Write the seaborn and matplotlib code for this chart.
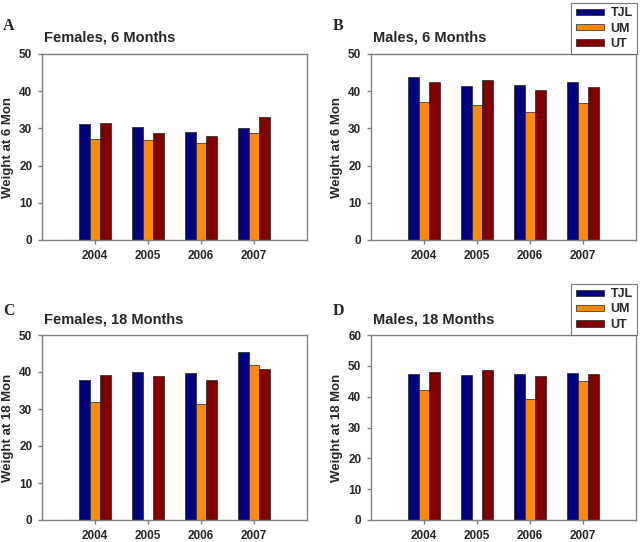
import matplotlib
matplotlib.use("Agg")
import matplotlib.pyplot as plt
import seaborn as sns
import pandas as pd
import numpy as np

years = ["2004", "2005", "2006", "2007"]
sites = ["TJL", "UM", "UT"]
colors = ["#000080", "#FF8C00", "#800000"]

# Panel A: Females, 6 months
fem6_tjl = [31.2, 30.3, 29.0, 30.2]
fem6_um = [27.2, 26.9, 26.1, 28.8]
fem6_ut = [31.5, 28.7, 28.0, 33.0]
# Panel B: Males, 6 months
mal6_tjl = [43.8, 41.3, 41.7, 42.6]
mal6_um = [37.1, 36.3, 34.4, 36.7]
mal6_ut = [42.4, 42.9, 40.4, 41.2]
# Panel C: Females, 18 months
fem18_tjl = [37.9, 40.0, 39.7, 45.4]
fem18_um = [32.0, np.nan, 31.3, 41.9]
fem18_ut = [39.3, 38.8, 37.9, 40.8]
# Panel D: Males, 18 months
mal18_tjl = [47.2, 46.9, 47.5, 47.7]
mal18_um = [42.3, np.nan, 39.1, 45.0]
mal18_ut = [47.9, 48.5, 46.8, 47.4]

panels = [
    ("A", "Females, 6 Months", "Weight at 6 Mon", (fem6_tjl, fem6_um, fem6_ut), 50, False),
    ("B", "Males, 6 Months", "Weight at 6 Mon", (mal6_tjl, mal6_um, mal6_ut), 50, True),
    ("C", "Females, 18 Months", "Weight at 18 Mon", (fem18_tjl, fem18_um, fem18_ut), 50, False),
    ("D", "Males, 18 Months", "Weight at 18 Mon", (mal18_tjl, mal18_um, mal18_ut), 60, True),
]

W, H = 640, 542
fig = plt.figure(figsize=(W / 100, H / 100), dpi=100)
sns.set_style("white")
plt.rcParams['font.family'] = ['Liberation Sans', 'DejaVu Sans']

# axes boxes in pixels: (left, top, right, bottom)
boxes = [(42, 54, 307, 240), (371, 54, 636, 240), (42, 335, 307, 520), (371, 335, 636, 520)]
letter_pos = [(3, 30), (333, 30), (3, 315), (333, 315)]
title_y = [38, 38, 319, 319]

spine_col = "#808080"
for (letter, title, ylabel, vals, ymax, show_leg), box, lp, ty in zip(panels, boxes, letter_pos, title_y):
    l, t, r, b = box
    ax = fig.add_axes([l / W, 1 - b / H, (r - l) / W, (b - t) / H])
    rows = []
    for s, v in zip(sites, vals):
        for y, val in zip(years, v):
            rows.append({"Year": y, "Site": s, "Weight": val})
    df = pd.DataFrame(rows)
    sns.barplot(data=df, x="Year", y="Weight", hue="Site", order=years, hue_order=sites,
                palette=colors, width=0.6, edgecolor="#222222", linewidth=0.5,
                saturation=1, ax=ax, legend=show_leg, errorbar=None)
    ax.set_xlim(-1, 4)
    ax.set_ylim(0, ymax)
    ax.set_yticks(np.arange(0, ymax + 1, 10))
    ax.set_xlabel("")
    ax.set_ylabel(ylabel, fontsize=9.5, fontweight="bold")
    ax.yaxis.set_label_coords(-0.105, 0.5)
    for sp in ax.spines.values():
        sp.set_visible(True)
        sp.set_color(spine_col)
        sp.set_linewidth(1.0)
    ax.tick_params(axis="both", which="major", direction="out", length=3, width=1,
                   color=spine_col, labelsize=8.5, pad=4, bottom=True, left=True)
    ax.tick_params(axis="x", pad=4)
    for lab in ax.get_xticklabels() + ax.get_yticklabels():
        lab.set_fontweight("bold")
    fig.text((l + 2) / W, 1 - ty / H, title,
             fontsize=10.5, fontweight="bold", ha="left", va="center")
    fig.text(lp[0] / W, 1 - lp[1] / H, letter, fontsize=11.5, fontweight="bold",
             family="Liberation Serif", ha="left", va="baseline")
    if show_leg:
        leg = ax.legend(loc="lower right", bbox_to_anchor=(1.004, 1.0), frameon=True,
                        fancybox=False, edgecolor="#555555", fontsize=9,
                        handlelength=2.3, handleheight=0.45, labelspacing=0.25,
                        borderpad=0.35, handletextpad=0.5, borderaxespad=0.0)
        leg.get_frame().set_linewidth(0.8)
        for txt in leg.get_texts():
            txt.set_fontweight("bold")

fig.savefig("out.png", dpi=100)
